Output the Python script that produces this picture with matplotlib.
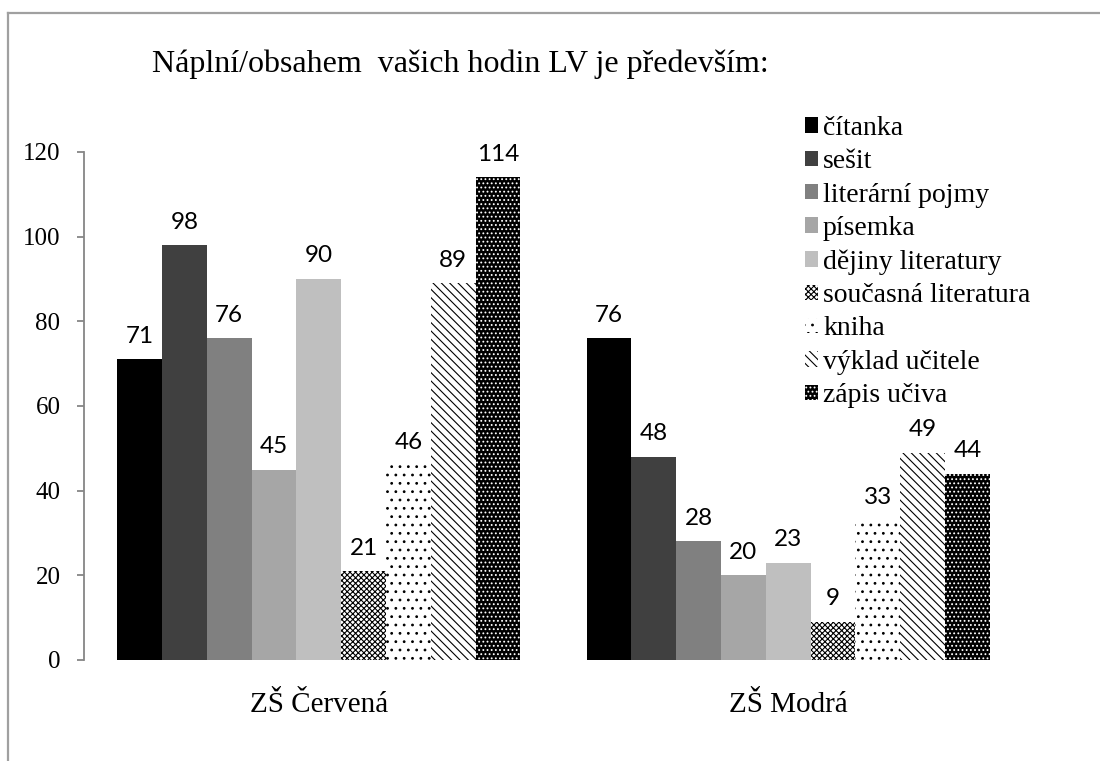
import matplotlib
matplotlib.use("Agg")
import matplotlib.pyplot as plt
from matplotlib.lines import Line2D
import numpy as np

categories = ["ZŠ Červená", "ZŠ Modrá"]
series_names = ["čítanka", "sešit", "literární pojmy", "písemka", "dějiny literatury",
                "současná literatura", "kniha", "výklad učitele", "zápis učiva"]
values = [
    [71, 76],
    [98, 48],
    [76, 28],
    [45, 20],
    [90, 23],
    [21, 9],
    [46, 33],
    [89, 49],
    [114, 44],
]
yticks = [0, 20, 40, 60, 80, 100, 120]
title = "Náplní/obsahem  vašich hodin LV je především:"

styles = [
    dict(facecolor="#000000", edgecolor="#000000", hatch=None),
    dict(facecolor="#404040", edgecolor="#404040", hatch=None),
    dict(facecolor="#808080", edgecolor="#808080", hatch=None),
    dict(facecolor="#a6a6a6", edgecolor="#a6a6a6", hatch=None),
    dict(facecolor="#bfbfbf", edgecolor="#bfbfbf", hatch=None),
    dict(facecolor="#ffffff", edgecolor="#000000", hatch="xxxxxx"),
    dict(facecolor="#ffffff", edgecolor="#000000", hatch=".."),
    dict(facecolor="#ffffff", edgecolor="#000000", hatch="\\\\\\\\"),
    dict(facecolor="#000000", edgecolor="#ffffff", hatch="...."),
]

plt.rcParams["hatch.linewidth"] = 0.8
serif = "Liberation Serif"
sans = "Lato"

fig = plt.figure(figsize=(11, 7.61), dpi=100)
W, H = 1100, 761
ax = fig.add_axes([84 / W, 1 - 660 / H, (1023 - 84) / W, (660 - 152) / H])

x = np.arange(len(categories))
w = 0.0954
for i, (name, vals) in enumerate(zip(series_names, values)):
    st = styles[i]
    bars = ax.bar(x + (i - 4) * w, vals, w, label=name, facecolor=st["facecolor"],
                  edgecolor=st["edgecolor"], hatch=st["hatch"], linewidth=0)
    ax.bar_label(bars, padding=9, fontsize=17.5, family=sans, color="#000000")

ax.set_xlim(-0.5, 1.5)
ax.set_ylim(0, 120)
ax.set_yticks(yticks)
ax.set_yticklabels([str(t) for t in yticks], family=serif, fontsize=18)
ax.set_xticks(x)
ax.set_xticklabels(categories, family=serif, fontsize=21)
ax.tick_params(axis="x", length=0, pad=23)
ax.tick_params(axis="y", length=5, width=1.3, color="#868686", pad=12, direction="out")
for s in ["top", "right", "bottom"]:
    ax.spines[s].set_visible(False)
ax.spines["left"].set_color("#868686")
ax.spines["left"].set_linewidth(1.3)

fig.text(460 / W, 1 - 64 / H, title, family=serif, fontsize=23, ha="center", va="center")

leg = ax.legend(loc="upper left", bbox_to_anchor=(805 / W, 1 - 116 / H),
                bbox_transform=fig.transFigure, frameon=False,
                prop=dict(family=serif, size=20), handlelength=0.47, handleheight=0.47,
                handletextpad=0.18, labelspacing=0.30, borderaxespad=0, borderpad=0)

# outer frame (left and top only visible)
fig.add_artist(Line2D([8 / W, 8 / W], [0, 1 - 13 / H], transform=fig.transFigure,
                      color="#a0a0a0", linewidth=1.6))
fig.add_artist(Line2D([8 / W, 1], [1 - 13 / H, 1 - 13 / H], transform=fig.transFigure,
                      color="#a0a0a0", linewidth=1.6))

fig.savefig("out.png", dpi=100)
